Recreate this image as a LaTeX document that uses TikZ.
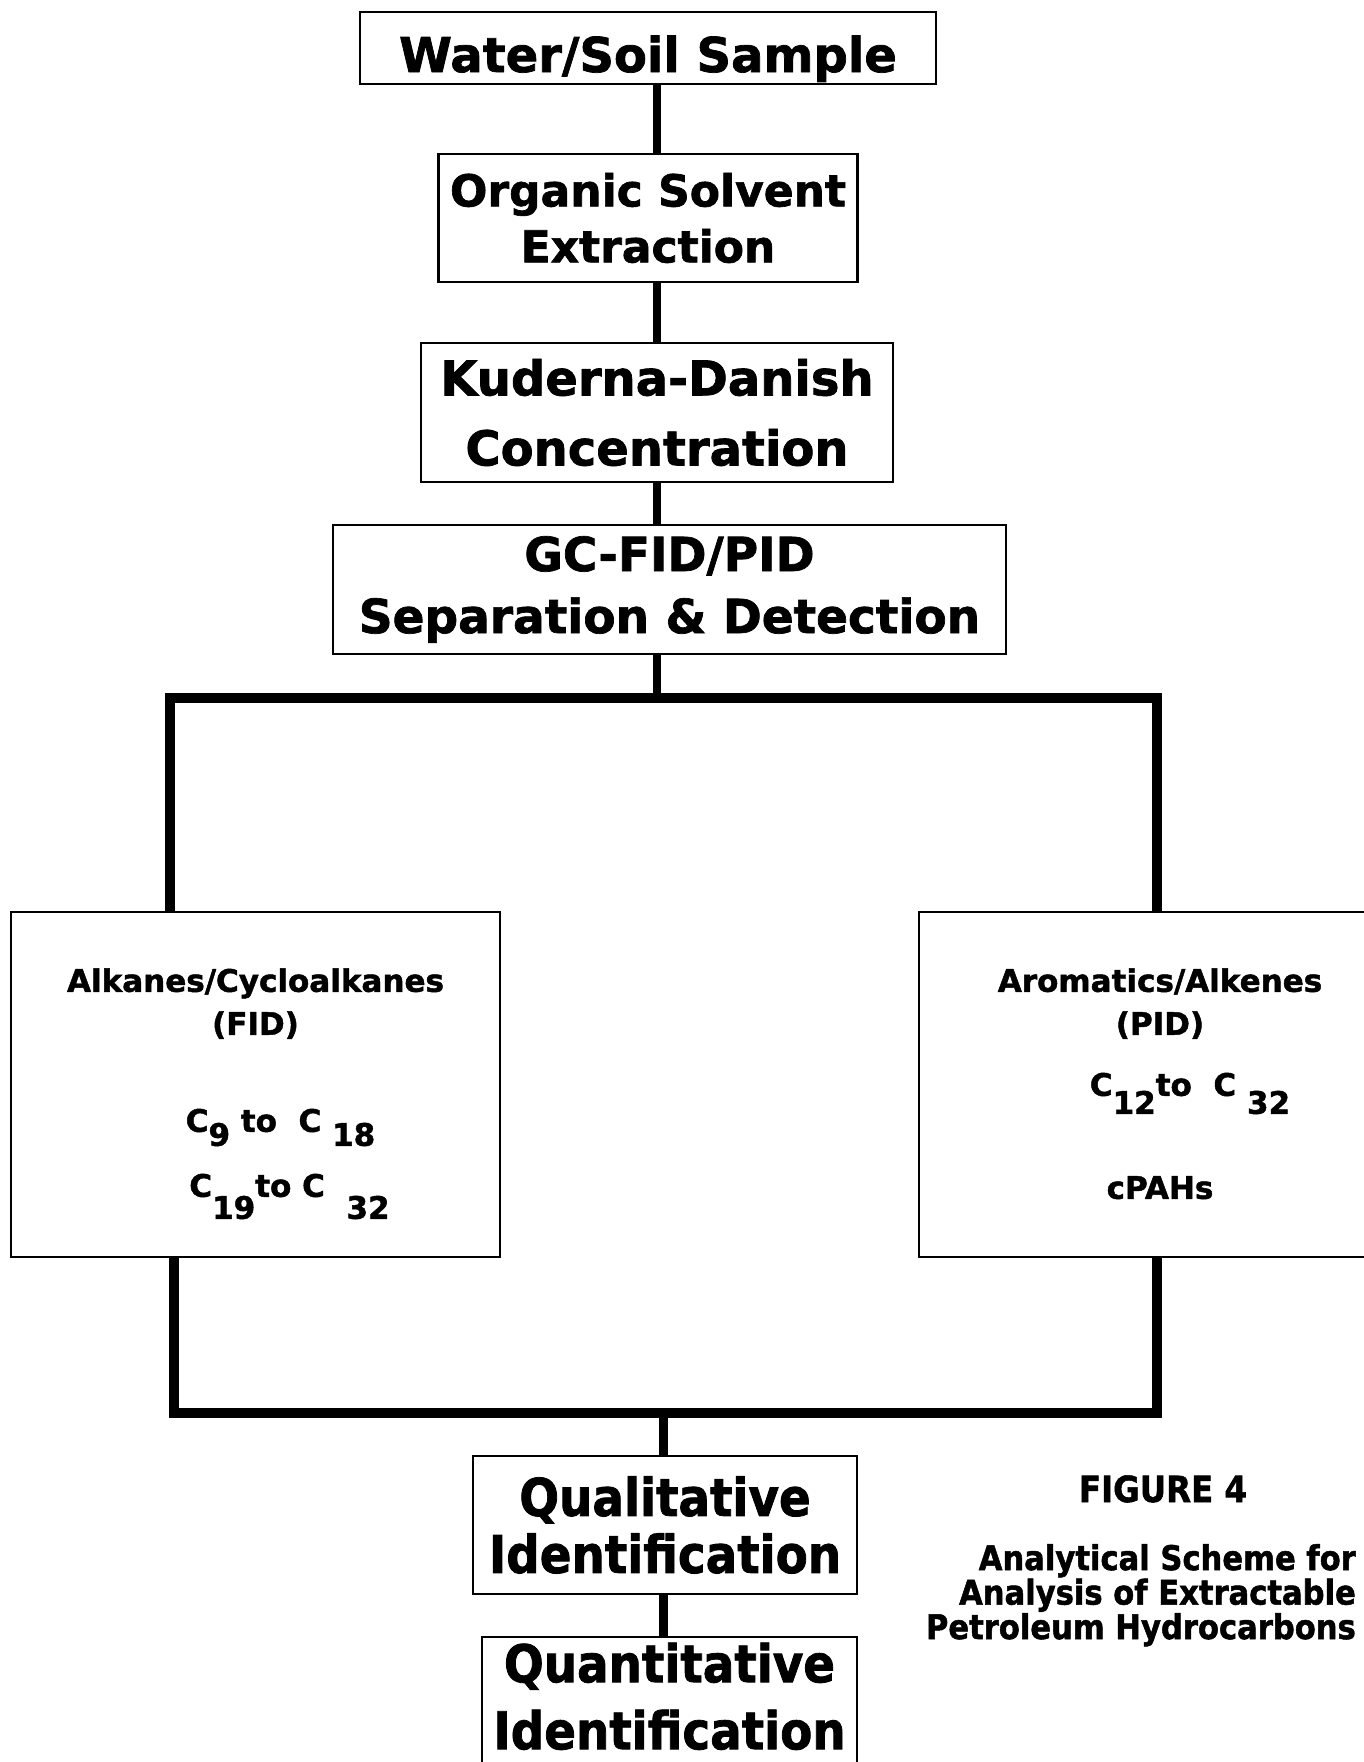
\documentclass[tikz,border=0pt]{standalone}
\usepackage{fontspec}
\setmainfont[BoldFeatures={FakeBold=1.5}]{DejaVu Sans}
\newfontfamily\narrowfont[FakeStretch=0.9, BoldFeatures={FakeBold=1.5}]{DejaVu Sans}
\usetikzlibrary{positioning}

\tikzstyle{block} = [rectangle, draw, line width=2.4pt, align=center, inner sep=0pt]
\tikzstyle{entry} = [inner sep=0pt, anchor=base, font=\bfseries\fontsize{31}{36}\selectfont]
\tikzstyle{caption} = [inner sep=0pt, font=\narrowfont\bfseries\fontsize{34}{34.5}\selectfont]
\tikzstyle{line} = [draw, line width=8.5pt]
\tikzstyle{branch} = [draw, line width=10.5pt]

\newcommand{\lowsub}[2]{\raisebox{-#1pt}{#2}}

\begin{document}
\begin{tikzpicture}[x=1pt, y=-1pt, node distance=170pt]
    \useasboundingbox (0,0) rectangle (1364,1762);
    \clip (0,0) rectangle (1364,1762);

    % Place nodes
    \node [block, minimum width=576pt, minimum height=72pt, text height=48pt, text depth=0pt, font=\bfseries\fontsize{48}{56}\selectfont] (sample) at (648,48) {Water/Soil Sample};
    \node [block, below of=sample, minimum width=419pt, minimum height=128pt, font=\bfseries\fontsize{44}{56}\selectfont] (extraction) {Organic Solvent\\Extraction};
    \node [block, below of=extraction, node distance=194.5pt, xshift=9pt, minimum width=472pt, minimum height=139pt, font=\bfseries\fontsize{48}{70}\selectfont] (concentration) {Kuderna-Danish\\Concentration};
    \node [block, below of=concentration, node distance=177pt, xshift=12.5pt, minimum width=673pt, minimum height=129pt, font=\bfseries\fontsize{47}{62}\selectfont] (separation) {GC-FID/PID\\Separation \& Detection};

    \node [block, minimum width=489pt, minimum height=345pt] (fid) at (255.5,1084.5) {};
    \node [block, minimum width=482pt, minimum height=345pt] (pid) at (1160,1084.5) {};

    \node [entry] (fidname) at ([yshift=-81pt]fid.north) {Alkanes/Cycloalkanes};
    \node [entry] (fidtype) at ([yshift=-124pt]fid.north) {(FID)};
    \node [entry] (fidlow) at ([xshift=25pt,yshift=-221pt]fid.north) {C\lowsub{14}{9} to\ \ C \lowsub{14}{18}};
    \node [entry] (fidhigh) at ([xshift=34pt,yshift=-286pt]fid.north) {C\lowsub{22}{19}to C\ \ \lowsub{22}{32}};

    \node [entry] (pidname) at ([yshift=-81pt]pid.north) {Aromatics/Alkenes};
    \node [entry] (pidtype) at ([yshift=-124pt]pid.north) {(PID)};
    \node [entry] (pidrange) at ([xshift=30pt,yshift=-185pt]pid.north) {C\lowsub{18}{12}to\ \ C \lowsub{18}{32}};
    \node [entry] (pidcpah) at ([yshift=-288pt]pid.north) {cPAHs};

    \node [block, minimum width=384pt, minimum height=138pt, font=\narrowfont\bfseries\fontsize{52}{57}\selectfont] (qualitative) at (665,1525) {Qualitative\\Identification};
    \node [block, below of=qualitative, node distance=197pt, xshift=4.5pt, minimum width=375pt, minimum height=170pt, font=\narrowfont\bfseries\fontsize{52}{67}\selectfont] (quantitative) {Quantitative\\Identification\\[-35pt]\strut};

    \node [caption, anchor=base, font=\narrowfont\bfseries\fontsize{36}{40}\selectfont] (fignum) at (1163,1502) {FIGURE 4};
    \node [caption, anchor=north east, align=right] (figtitle) at (1356,1544) {Analytical Scheme for\\Analysis of Extractable\\Petroleum Hydrocarbons};

    % Draw edges
    \coordinate (trunk) at (657,0);
    \coordinate (stem) at (663.5,0);
    \coordinate (splitleft) at (170,698);
    \coordinate (splitright) at (1157,698);
    \coordinate (joinleft) at (174,1413);
    \coordinate (joinright) at (1157,1413);

    \path [line] (sample.south -| trunk) -- (extraction.north -| trunk);
    \path [line] (extraction.south -| trunk) -- (concentration.north -| trunk);
    \path [line] (concentration.south -| trunk) -- (separation.north -| trunk);
    \path [line] (separation.south -| trunk) -- (splitleft -| trunk);
    \path [branch] (fid.north -| splitleft) -- (splitleft) -- (splitright) -- (pid.north -| splitright);
    \path [branch] (fid.south -| joinleft) -- (joinleft) -- (joinright) -- (pid.south -| joinright);
    \path [line] (joinleft -| stem) -- (qualitative.north -| stem);
    \path [line] (qualitative.south -| stem) -- (quantitative.north -| stem);

\end{tikzpicture}
\end{document}
